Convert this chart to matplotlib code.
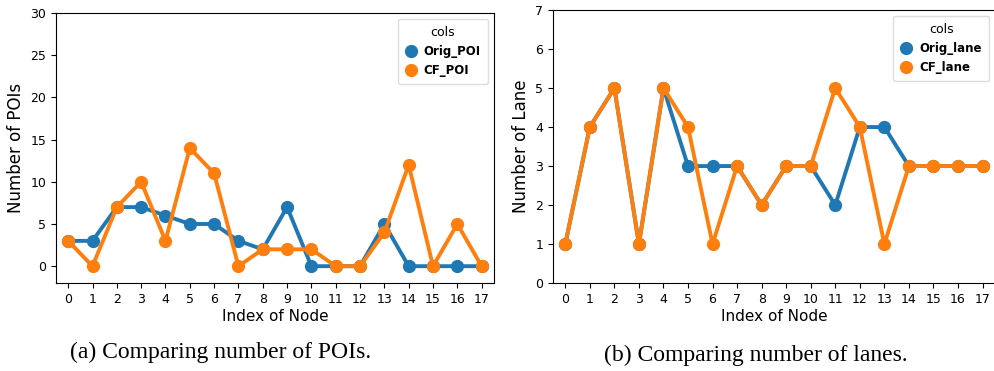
import numpy as np
import matplotlib.pyplot as plt

# node indices on the x axis
nodes = list(range(18))

# (a) POIs per node
orig_poi = [3, 3, 7, 7, 6, 5, 5, 3, 2, 7, 0, 0, 0, 5, 0, 0, 0, 0]
cf_poi = [3, 0, 7, 10, 3, 14, 11, 0, 2, 2, 2, 0, 0, 4, 12, 0, 5, 0]

# (b) lanes per node
orig_lane = [1, 4, 5, 1, 5, 3, 3, 3, 2, 3, 3, 2, 4, 4, 3, 3, 3, 3]
cf_lane = [1, 4, 5, 1, 5, 4, 1, 3, 2, 3, 3, 5, 4, 1, 3, 3, 3, 3]

BLUE = '#1f77b4'
ORANGE = '#ff7f0e'


def draw_panel(ax, orig, cf, names, ylabel, ylim, yticks):
    x = np.arange(len(nodes))
    ax.plot(x, orig, color=BLUE, lw=2.8, marker='o', ms=8.5, label=names[0], zorder=3)
    ax.plot(x, cf, color=ORANGE, lw=2.8, marker='o', ms=8.5, label=names[1], zorder=4)
    ax.set_xlim(-0.5, len(nodes) - 0.5)
    ax.set_xticks(x)
    ax.set_xticklabels([str(n) for n in nodes], fontsize=9)
    ax.set_ylim(*ylim)
    ax.set_yticks(yticks)
    ax.tick_params(axis='y', labelsize=9)
    ax.set_xlabel('Index of Node', fontsize=11, labelpad=2)
    ax.set_ylabel(ylabel, fontsize=12)
    leg = ax.legend(title='cols', loc='upper right', fontsize=8.5, title_fontsize=9,
                    handlelength=1.0, handletextpad=0.6, borderpad=0.6,
                    framealpha=1.0, edgecolor='#dddddd')
    for t in leg.get_texts():
        t.set_fontweight('bold')
    for h in leg.legend_handles:
        h.set_linestyle('')


fig = plt.figure(figsize=(9.95, 3.71), dpi=100)

ax1 = fig.add_axes([0.0563, 0.237, 0.44, 0.728])
draw_panel(ax1, orig_poi, cf_poi, ['Orig_POI', 'CF_POI'], 'Number of POIs',
           (-2, 30), range(0, 31, 5))

ax2 = fig.add_axes([0.5558, 0.237, 0.444, 0.736])
draw_panel(ax2, orig_lane, cf_lane, ['Orig_lane', 'CF_lane'], 'Number of Lane',
           (0, 7), range(0, 8))

fig.text(0.222, 0.05, '(a) Comparing number of POIs.', ha='center', va='center',
         family='Liberation Serif', fontsize=17)
fig.text(0.760, 0.043, '(b) Comparing number of lanes.', ha='center', va='center',
         family='Liberation Serif', fontsize=17)

fig.savefig('out.png', dpi=100)
